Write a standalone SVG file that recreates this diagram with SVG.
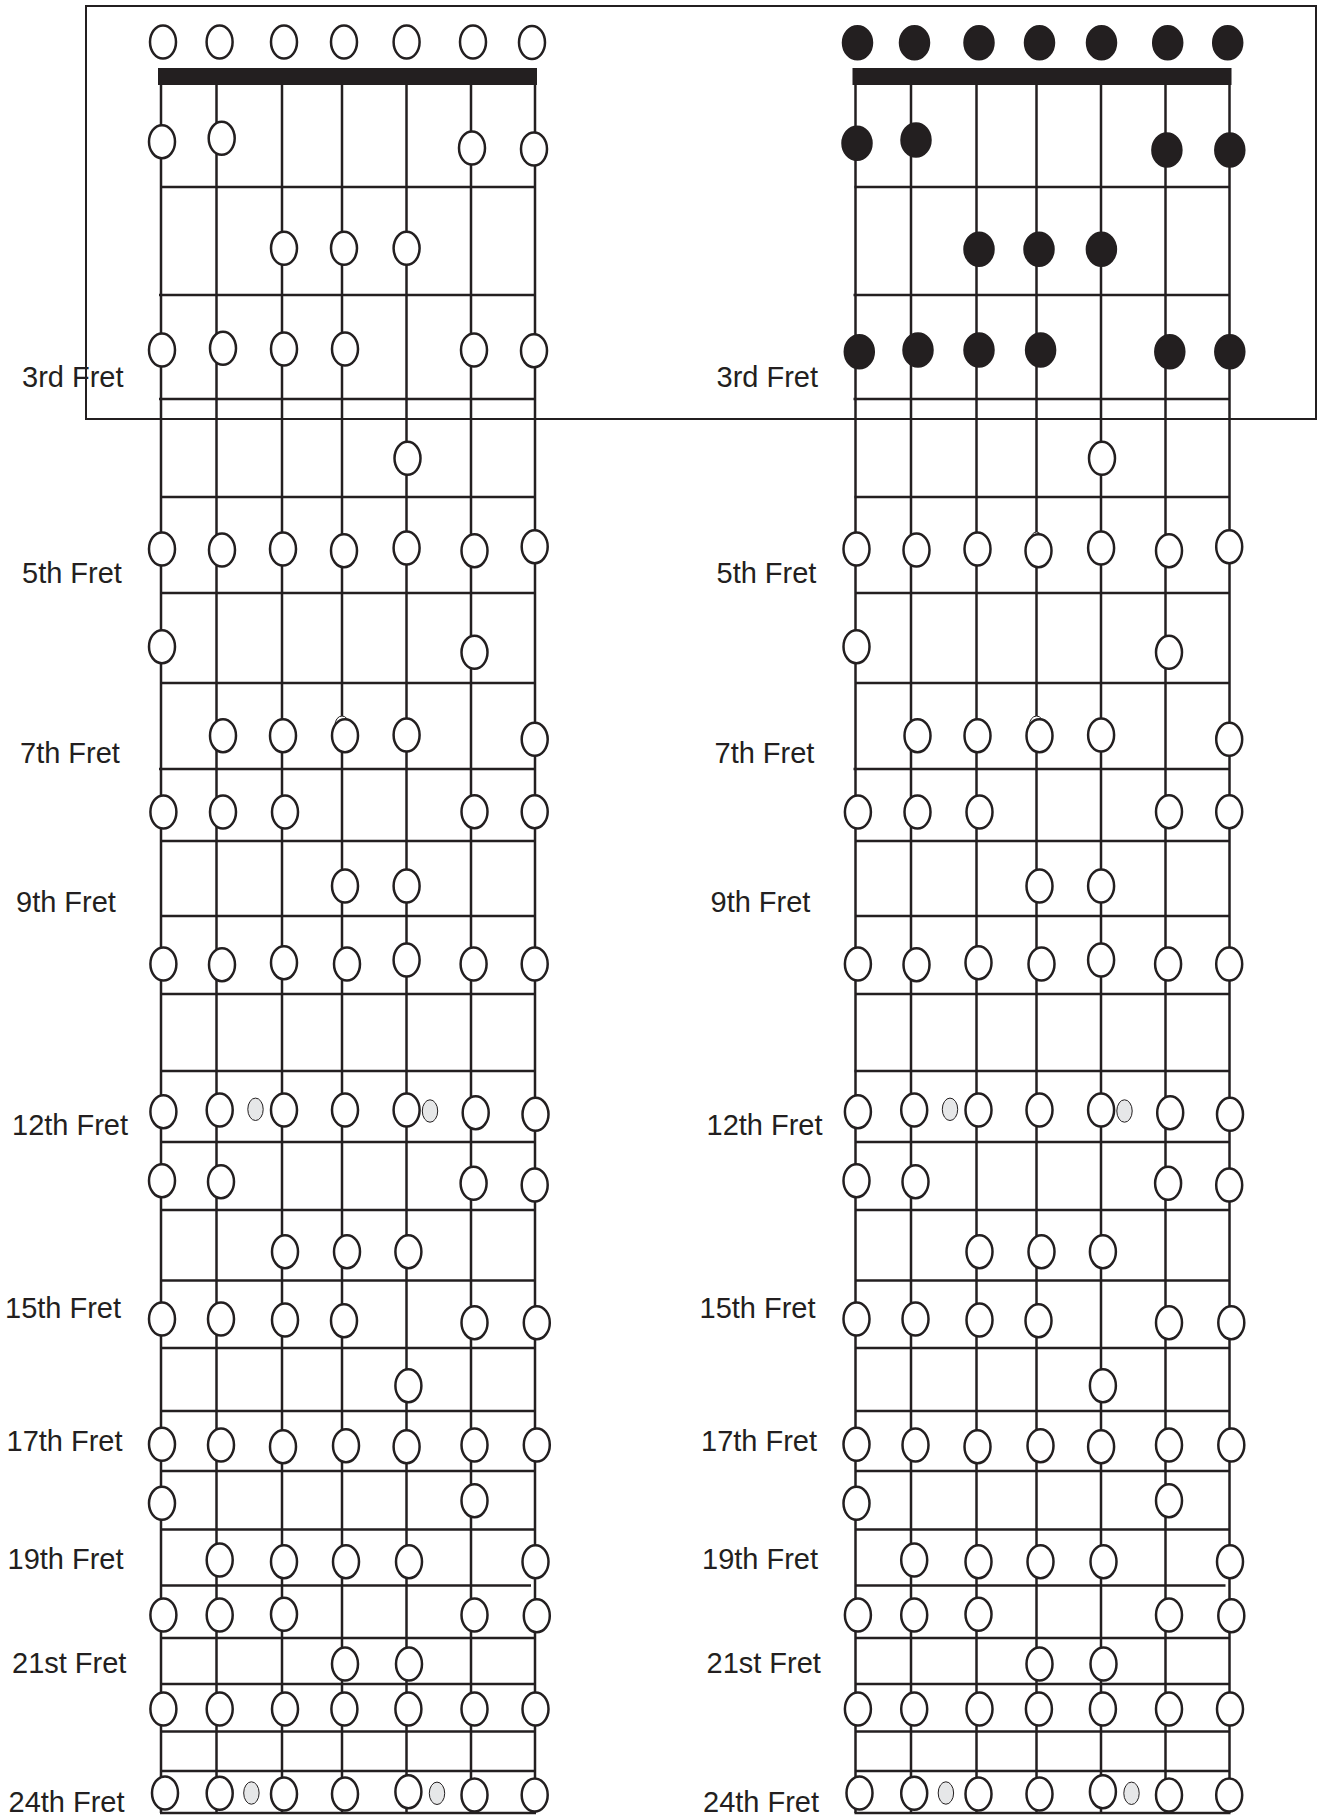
<svg xmlns="http://www.w3.org/2000/svg" xmlns:xlink="http://www.w3.org/1999/xlink" width="1318" height="1818" viewBox="0 0 1318 1818">
<style>
.s{stroke:#231f20;stroke-width:2.5;fill:none}
.fr{stroke:#231f20;stroke-width:2.5;fill:none}
.nut{fill:#231f20}
.o{fill:#fff;stroke:#231f20;stroke-width:2.5}
.f{fill:#231f20;stroke:#231f20;stroke-width:2.5}
.g{fill:#e6e7e8;stroke:#231f20;stroke-width:1}
.a{fill:#fff;stroke:#231f20;stroke-width:1}
.lbl{font-family:"Liberation Sans",Arial,sans-serif;font-size:29px;fill:#231f20}
.box{fill:none;stroke:#231f20;stroke-width:2}
</style>
<defs>
<ellipse id="o" rx="13" ry="16.5" class="o"/>
<ellipse id="f" rx="14.5" ry="16.5" class="f"/>
<ellipse id="g" rx="7.7" ry="11.2" class="g"/>
<g id="strings">
<line class="s" x1="161" y1="85" x2="161" y2="1813"/>
<line class="s" x1="216.5" y1="85" x2="216.5" y2="1813"/>
<line class="s" x1="282" y1="85" x2="282" y2="1813"/>
<line class="s" x1="342" y1="85" x2="342" y2="1813"/>
<line class="s" x1="406.5" y1="85" x2="406.5" y2="1813"/>
<line class="s" x1="471" y1="85" x2="471" y2="1813"/>
<line class="s" x1="535" y1="85" x2="535" y2="1813"/>
</g>
<g id="frets">
<line class="fr" x1="160" y1="187" x2="535" y2="187"/>
<line class="fr" x1="159" y1="295" x2="535" y2="295"/>
<line class="fr" x1="159" y1="399" x2="535" y2="399"/>
<line class="fr" x1="160" y1="497" x2="535" y2="497"/>
<line class="fr" x1="161" y1="593" x2="535" y2="593"/>
<line class="fr" x1="161" y1="683" x2="535" y2="683"/>
<line class="fr" x1="159" y1="769" x2="535" y2="769"/>
<line class="fr" x1="161" y1="841" x2="535" y2="841"/>
<line class="fr" x1="161" y1="916" x2="535" y2="916"/>
<line class="fr" x1="161" y1="994" x2="535" y2="994"/>
<line class="fr" x1="160" y1="1071" x2="535" y2="1071"/>
<line class="fr" x1="161" y1="1142" x2="535" y2="1142"/>
<line class="fr" x1="161" y1="1210" x2="535" y2="1210"/>
<line class="fr" x1="161" y1="1280.5" x2="535" y2="1280.5"/>
<line class="fr" x1="161" y1="1348" x2="535" y2="1348"/>
<line class="fr" x1="161" y1="1411" x2="535" y2="1411"/>
<line class="fr" x1="161" y1="1471" x2="535" y2="1471"/>
<line class="fr" x1="161" y1="1529.5" x2="535" y2="1529.5"/>
<line class="fr" x1="161" y1="1585.5" x2="531" y2="1585.5"/>
<line class="fr" x1="161" y1="1638" x2="535" y2="1638"/>
<line class="fr" x1="161" y1="1684" x2="535" y2="1684"/>
<line class="fr" x1="161" y1="1731.5" x2="535" y2="1731.5"/>
<line class="fr" x1="161" y1="1771" x2="535" y2="1771"/>
<line class="fr" x1="160" y1="1813" x2="536" y2="1813"/>
</g>
<g id="labels">
<text class="lbl" x="22" y="387">3rd Fret</text>
<text class="lbl" x="22" y="583">5th Fret</text>
<text class="lbl" x="20" y="763">7th Fret</text>
<text class="lbl" x="16" y="912">9th Fret</text>
<text class="lbl" x="12" y="1135">12th Fret</text>
<text class="lbl" x="5" y="1318">15th Fret</text>
<text class="lbl" x="6.5" y="1451">17th Fret</text>
<text class="lbl" x="7.5" y="1569">19th Fret</text>
<text class="lbl" x="12" y="1673">21st Fret</text>
<text class="lbl" x="8.5" y="1812">24th Fret</text>
</g>
<g id="lowerDots">
<use href="#o" x="407.5" y="458.3"/>
<use href="#o" x="162" y="549"/><use href="#o" x="222" y="550"/><use href="#o" x="283" y="549"/><use href="#o" x="344" y="550.7"/><use href="#o" x="406.6" y="548"/><use href="#o" x="474.5" y="550.7"/><use href="#o" x="534.7" y="546.7"/>
<use href="#o" x="162" y="646.7"/><use href="#o" x="474.5" y="652.3"/>
<ellipse class="a" cx="342" cy="725" rx="7" ry="9"/>
<use href="#o" x="223" y="735.7"/><use href="#o" x="283" y="735.7"/><use href="#o" x="345" y="735.7"/><use href="#o" x="406.6" y="735"/><use href="#o" x="534.7" y="739.3"/>
<use href="#o" x="163.4" y="812"/><use href="#o" x="223" y="812"/><use href="#o" x="285" y="812"/><use href="#o" x="474.5" y="811.7"/><use href="#o" x="534.7" y="811.7"/>
<use href="#o" x="345" y="886"/><use href="#o" x="406.6" y="886"/>
<use href="#o" x="163.4" y="964"/><use href="#o" x="222" y="964.7"/><use href="#o" x="284" y="962.7"/><use href="#o" x="347" y="964"/><use href="#o" x="406.6" y="960"/><use href="#o" x="473.6" y="964"/><use href="#o" x="534.7" y="964"/>
<use href="#o" x="163.4" y="1111.7"/><use href="#o" x="219.7" y="1110"/><use href="#g" x="255.5" y="1109.3"/><use href="#o" x="284" y="1110"/><use href="#o" x="345" y="1110"/><use href="#o" x="406.6" y="1110"/><use href="#g" x="430" y="1111"/><use href="#o" x="475.7" y="1112.7"/><use href="#o" x="535.5" y="1114.3"/>
<use href="#o" x="162" y="1180.7"/><use href="#o" x="221" y="1181.7"/><use href="#o" x="473.6" y="1183.3"/><use href="#o" x="534.7" y="1185"/>
<use href="#o" x="285" y="1251.7"/><use href="#o" x="347" y="1251.7"/><use href="#o" x="408.4" y="1251.7"/>
<use href="#o" x="162" y="1319"/><use href="#o" x="221" y="1319"/><use href="#o" x="285" y="1320"/><use href="#o" x="344" y="1320.7"/><use href="#o" x="474.5" y="1322.7"/><use href="#o" x="536.8" y="1322.7"/>
<use href="#o" x="408.4" y="1385.7"/>
<use href="#o" x="162" y="1444.3"/><use href="#o" x="221" y="1445"/><use href="#o" x="283" y="1446.7"/><use href="#o" x="346" y="1445.7"/><use href="#o" x="406.6" y="1446.7"/><use href="#o" x="474.5" y="1445"/><use href="#o" x="536.8" y="1445"/>
<use href="#o" x="162" y="1503.3"/><use href="#o" x="474.5" y="1500.7"/>
<use href="#o" x="219.7" y="1560"/><use href="#o" x="284" y="1561.7"/><use href="#o" x="346" y="1561.7"/><use href="#o" x="409" y="1561.7"/><use href="#o" x="535.5" y="1561.7"/>
<use href="#o" x="163.4" y="1615"/><use href="#o" x="219.7" y="1615"/><use href="#o" x="284" y="1614.3"/><use href="#o" x="474.5" y="1615"/><use href="#o" x="536.8" y="1615.7"/>
<use href="#o" x="345" y="1664"/><use href="#o" x="409" y="1664"/>
<use href="#o" x="163.4" y="1709"/><use href="#o" x="219.7" y="1709"/><use href="#o" x="285" y="1709"/><use href="#o" x="344.4" y="1709"/><use href="#o" x="408.4" y="1709"/><use href="#o" x="474.5" y="1709"/><use href="#o" x="535.5" y="1709"/>
<use href="#o" x="165" y="1793"/><use href="#o" x="219.7" y="1793.3"/><use href="#g" x="251.4" y="1793"/><use href="#o" x="284" y="1794"/><use href="#o" x="345" y="1794"/><use href="#o" x="408.4" y="1791.7"/><use href="#g" x="437" y="1793.3"/><use href="#o" x="474.5" y="1795"/><use href="#o" x="534.7" y="1795"/>
</g>
</defs>

<g id="left-board">
<use href="#strings"/>
<use href="#frets"/>
<rect class="nut" x="158" y="68" width="379" height="17"/>
<use href="#labels"/>
<g id="left-top-dots">
<use href="#o" x="163" y="42"/><use href="#o" x="219.6" y="42"/><use href="#o" x="284" y="42"/><use href="#o" x="344" y="42"/><use href="#o" x="406.6" y="42"/><use href="#o" x="473" y="42"/><use href="#o" x="532" y="42.5"/>
<use href="#o" x="162" y="141.7"/><use href="#o" x="221.7" y="138.3"/><use href="#o" x="472" y="148"/><use href="#o" x="534" y="149"/>
<use href="#o" x="284" y="248.3"/><use href="#o" x="344" y="248.3"/><use href="#o" x="406.6" y="248.3"/>
<use href="#o" x="162" y="350"/><use href="#o" x="223" y="348.3"/><use href="#o" x="284" y="349"/><use href="#o" x="345" y="349"/><use href="#o" x="474" y="350"/><use href="#o" x="534" y="350.7"/>
</g>
<use href="#lowerDots"/>
</g>

<g id="right-board" transform="translate(694.5 0)">
<use href="#strings"/>
<use href="#frets"/>
<rect class="nut" x="158" y="68" width="379" height="17"/>
<use href="#labels"/>
<g id="right-top-dots">
<use href="#f" x="163" y="42.7"/><use href="#f" x="220" y="42.7"/><use href="#f" x="284.5" y="42.7"/><use href="#f" x="345" y="42.7"/><use href="#f" x="407" y="42.7"/><use href="#f" x="473.2" y="42.7"/><use href="#f" x="533.2" y="42.7"/>
<use href="#f" x="162.5" y="143.3"/><use href="#f" x="221.5" y="140"/><use href="#f" x="472.4" y="150"/><use href="#f" x="535.3" y="150"/>
<use href="#f" x="284.5" y="249.3"/><use href="#f" x="344.5" y="249.3"/><use href="#f" x="406.9" y="249.3"/>
<use href="#f" x="164.8" y="351.7"/><use href="#f" x="223.5" y="350"/><use href="#f" x="284.5" y="350"/><use href="#f" x="346.1" y="350"/><use href="#f" x="475.3" y="351.7"/><use href="#f" x="535.3" y="351.7"/>
</g>
<ellipse class="a" cx="342" cy="540" rx="6" ry="8"/>
<use href="#lowerDots"/>
</g>

<rect id="highlight-box" class="box" x="86" y="6" width="1230" height="413"/>
</svg>
